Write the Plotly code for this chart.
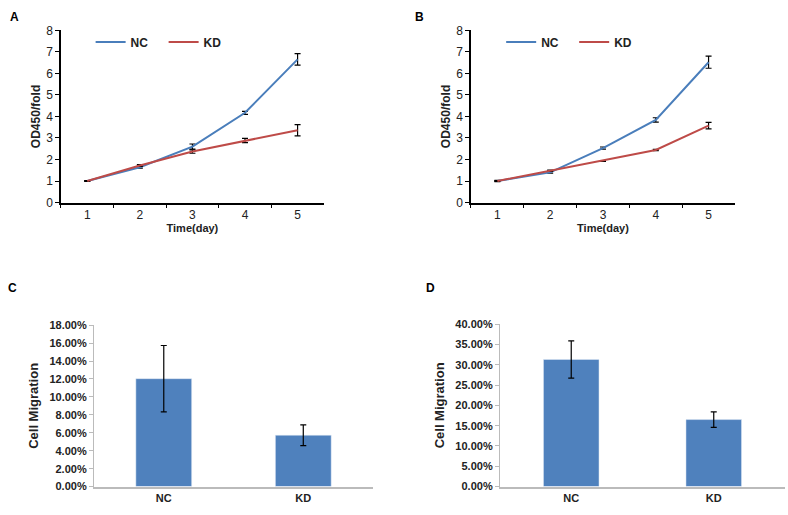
import plotly.graph_objects as go

days = ["1", "2", "3", "4", "5"]
a_nc = [1.0, 1.64, 2.6, 4.17, 6.65]
a_nc_err = [0.02, 0.04, 0.12, 0.07, 0.27]
a_kd = [1.0, 1.72, 2.37, 2.88, 3.36]
a_kd_err = [0.02, 0.04, 0.08, 0.1, 0.26]
b_nc = [1.0, 1.4, 2.53, 3.84, 6.52]
b_nc_err = [0.03, 0.04, 0.05, 0.1, 0.28]
b_kd = [1.0, 1.48, 1.93, 2.44, 3.57]
b_kd_err = [0.02, 0.03, 0.02, 0.03, 0.15]

groups = ["NC", "KD"]
c_vals = [0.1203, 0.0573]
c_err = [0.037, 0.0115]
d_vals = [0.313, 0.165]
d_err = [0.046, 0.019]

BLUE = "#4A7EBB"
RED = "#BE4B48"
BAR = "#4F81BD"
FONT = "Liberation Sans, Arial, sans-serif"

fig = go.Figure()

def line_panel(xa, ya, nc, nce, kd, kde, legend):
    fig.add_trace(go.Scatter(x=days, y=nc, mode="lines", name="NC", line=dict(color=BLUE, width=2),
                             error_y=dict(type="data", array=nce, color="black", thickness=1.2, width=3),
                             xaxis=xa, yaxis=ya, legend=legend))
    fig.add_trace(go.Scatter(x=days, y=kd, mode="lines", name="KD", line=dict(color=RED, width=2),
                             error_y=dict(type="data", array=kde, color="black", thickness=1.2, width=3),
                             xaxis=xa, yaxis=ya, legend=legend))

line_panel("x", "y", a_nc, a_nc_err, a_kd, a_kd_err, "legend")
line_panel("x2", "y2", b_nc, b_nc_err, b_kd, b_kd_err, "legend2")

fig.add_trace(go.Bar(x=groups, y=c_vals, marker_color=BAR, width=0.4, showlegend=False,
                     error_y=dict(type="data", array=c_err, color="black", thickness=1.2, width=3),
                     xaxis="x3", yaxis="y3"))
fig.add_trace(go.Bar(x=groups, y=d_vals, marker_color=BAR, width=0.39, showlegend=False,
                     error_y=dict(type="data", array=d_err, color="black", thickness=1.2, width=3),
                     xaxis="x4", yaxis="y4"))

line_x = dict(type="category", range=[-0.5, 4.5], tickson="boundaries", ticks="outside", ticklen=4,
              tickcolor="black", showline=True, linecolor="black", linewidth=1.5, showgrid=False,
              zeroline=False, tickfont=dict(family=FONT, size=12, color="#222"),
              title=dict(text="<b>Time(day)</b>", font=dict(family=FONT, size=11, color="#222"), standoff=0))
line_y = dict(range=[0, 8], dtick=1, ticks="outside", ticklen=4, tickcolor="black",
              showline=True, linecolor="black", linewidth=1.5, showgrid=False, zeroline=False,
              tickfont=dict(family=FONT, size=12, color="#222"),
              title=dict(text="<b>OD450/fold</b>", font=dict(family=FONT, size=12, color="#222"), standoff=3))

bar_x = dict(type="category", range=[-0.5, 1.5], ticks="", showline=True, linecolor="#BBBBBB", linewidth=1.5,
             showgrid=False, zeroline=False,
             tickfont=dict(family=FONT, size=11, color="#222", weight="bold"))

def bar_y(rng, dt):
    return dict(range=rng, dtick=dt, tickformat=".2%", ticks="outside", ticklen=4, tickcolor="#BBBBBB",
                showline=True, linecolor="#BBBBBB", linewidth=1.2, showgrid=False, zeroline=False,
                tickfont=dict(family=FONT, size=11, color="#222", weight="bold"),
                title=dict(text="<b>Cell Migration</b>", font=dict(family=FONT, size=13, color="#222"), standoff=7))

fig.update_layout(
    width=788, height=515, margin=dict(l=0, r=0, t=0, b=0),
    paper_bgcolor="white", plot_bgcolor="white",
    font=dict(family=FONT),
    xaxis=dict(domain=[0.0774, 0.411], anchor="y", **line_x),
    yaxis=dict(domain=[0.6097, 0.9534], anchor="x", **line_y),
    xaxis2=dict(domain=[0.5977, 0.9327], anchor="y2", **line_x),
    yaxis2=dict(domain=[0.6097, 0.9534], anchor="x2", **line_y),
    xaxis3=dict(domain=[0.1193, 0.4734], anchor="y3", **bar_x),
    yaxis3=dict(domain=[0.0427, 0.3650], anchor="x3", **bar_y([0, 0.18], 0.02)),
    xaxis4=dict(domain=[0.6345, 0.9962], anchor="y4", **bar_x),
    yaxis4=dict(domain=[0.0427, 0.3670], anchor="x4", **bar_y([0, 0.40], 0.05)),
    legend=dict(orientation="h", x=0.115, y=0.93, xanchor="left", yanchor="middle",
                font=dict(family=FONT, size=12, color="#222", weight="bold"),
                entrywidth=28, entrywidthmode="pixels", bgcolor="rgba(0,0,0,0)", tracegroupgap=0),
    legend2=dict(orientation="h", x=0.636, y=0.93, xanchor="left", yanchor="middle",
                 font=dict(family=FONT, size=12, color="#222", weight="bold"),
                 entrywidth=28, entrywidthmode="pixels", bgcolor="rgba(0,0,0,0)", tracegroupgap=0),
)

for txt, x, y in [("A", 8, 10), ("B", 413, 10), ("C", 6, 289), ("D", 424, 289)]:
    fig.add_annotation(text=f"<b>{txt}</b>", x=x / 788, y=1 - y / 515, xref="paper", yref="paper",
                       xanchor="left", yanchor="middle", showarrow=False,
                       font=dict(family=FONT, size=12, color="black"))

fig.write_html("out.html")
